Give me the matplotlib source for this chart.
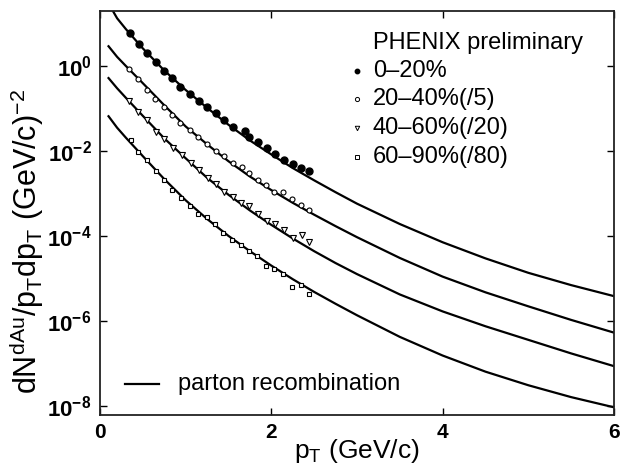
import numpy as np
import matplotlib
matplotlib.use("Agg")
import matplotlib.pyplot as plt


# data
# PHENIX preliminary d+Au spectra, by centrality (scaled)
x_0_20 = [0.35, 0.455, 0.552, 0.65, 0.747, 0.837, 0.933, 1.05, 1.155, 1.252, 1.354,
          1.447, 1.548, 1.692, 1.739, 1.847, 1.945, 2.042, 2.147, 2.249, 2.342, 2.442]
y_0_20 = [5.9, 3.25, 2.1, 1.26, 0.774, 0.513, 0.315, 0.219, 0.152, 0.110, 0.081,
          0.0553, 0.037, 0.0298, 0.0215, 0.0164, 0.0115, 0.0087, 0.00607, 0.0049, 0.0040, 0.00334]

x_20_40 = [0.34, 0.44, 0.545, 0.64, 0.747, 0.837, 0.933, 1.05, 1.147, 1.252, 1.35,
           1.447, 1.548, 1.653, 1.742, 1.84, 1.937, 2.034, 2.139, 2.244, 2.342, 2.439]
y_20_40 = [0.836, 0.486, 0.282, 0.167, 0.110, 0.070, 0.047, 0.031, 0.0215, 0.015, 0.0100,
           0.0077, 0.0051, 0.0042, 0.0030, 0.00204, 0.00158, 0.00108, 0.00108, 0.00076, 0.00053, 0.00040]

x_40_60 = [0.34, 0.447, 0.552, 0.65, 0.75, 0.848, 0.953, 1.058, 1.155, 1.257, 1.35,
           1.447, 1.548, 1.645, 1.742, 1.847, 1.945, 2.042, 2.147, 2.249, 2.354, 2.442]
y_40_60 = [0.152, 0.0836, 0.0533, 0.0282, 0.019, 0.0121, 0.0080, 0.0052, 0.00352, 0.00237, 0.00171,
           0.00108, 0.00083, 0.00060, 0.00050, 0.00032, 0.000224, 0.000187, 0.000141, 8.9e-5, 1.03e-4, 7.2e-5]

x_60_90 = [0.358, 0.447, 0.552, 0.65, 0.747, 0.846, 0.945, 1.047, 1.147, 1.252, 1.348,
           1.439, 1.544, 1.645, 1.742, 1.838, 1.941, 2.036, 2.139, 2.244, 2.343, 2.435]
y_60_90 = [0.0180, 0.0095, 0.00607, 0.00334, 0.00213, 0.00124, 0.0008, 0.00052, 0.000336, 0.000282, 0.000188,
           0.00012, 8.2e-5, 6.2e-5, 4.3e-5, 3.3e-5, 1.92e-5, 1.70e-5, 1.29e-5, 6.2e-6, 6.8e-6, 4.2e-6]

# parton recombination curves (log10 of the value)
x_curve = [0.1, 0.2, 0.3, 0.5, 0.75, 1.0, 1.25, 1.5, 1.75, 2.0,
           2.25, 2.5, 2.75, 3.0, 3.5, 4.0, 4.5, 5.0, 5.5, 6.0]
log_curve_0_20 = [1.48, 1.13, 0.88, 0.42, -0.10, -0.56, -0.98, -1.38, -1.75, -2.08,
                  -2.40, -2.69, -2.97, -3.24, -3.72, -4.15, -4.53, -4.87, -5.16, -5.42]
log_curve_20_40 = [0.47, 0.22, 0.01, -0.40, -0.92, -1.42, -1.84, -2.24, -2.60, -2.92,
                   -3.22, -3.50, -3.77, -4.03, -4.52, -4.96, -5.33, -5.66, -5.98, -6.28]
log_curve_40_60 = [-0.28, -0.52, -0.74, -1.17, -1.70, -2.17, -2.63, -3.03, -3.40, -3.74,
                   -4.06, -4.36, -4.64, -4.90, -5.38, -5.78, -6.13, -6.45, -6.77, -7.07]
log_curve_60_90 = [-1.18, -1.45, -1.68, -2.12, -2.66, -3.16, -3.60, -4.00, -4.36, -4.70,
                   -5.02, -5.32, -5.60, -5.87, -6.38, -6.82, -7.20, -7.52, -7.80, -8.04]

labels = ["0\u201320%", "20\u201340%(/5)", "40\u201360%(/20)", "60\u201390%(/80)"]

x_ticks = [0, 2, 4, 6]
y_ticks = [1e0, 1e-2, 1e-4, 1e-6, 1e-8]
y_tick_labels = [r"$\mathbf{10^{0}}$", r"$\mathbf{10^{-2}}$", r"$\mathbf{10^{-4}}$",
                 r"$\mathbf{10^{-6}}$", r"$\mathbf{10^{-8}}$"]


plt.rcParams["font.family"] = "Liberation Sans"
plt.rcParams["mathtext.fontset"] = "custom"
plt.rcParams["mathtext.rm"] = "Liberation Sans"
plt.rcParams["mathtext.it"] = "Liberation Sans:italic"
plt.rcParams["mathtext.bf"] = "Liberation Sans:bold"

fig = plt.figure(figsize=(6.26, 4.66), dpi=100)
ax = fig.add_axes([0.1597, 0.1094, 0.8211, 0.867])

# curves
for lc in [log_curve_0_20, log_curve_20_40, log_curve_40_60, log_curve_60_90]:
    ax.plot(x_curve, 10.0 ** np.array(lc), color="black", lw=1.6, zorder=2)

# data points
styles = [
    dict(marker="o", color="black", ms=5.0),
    dict(marker="o", mfc="white", mec="black", mew=0.8, ms=3.6),
    dict(marker="v", mfc="white", mec="black", mew=0.8, ms=3.8),
    dict(marker="s", mfc="white", mec="black", mew=0.8, ms=3.2),
]
series = [(x_0_20, y_0_20), (x_20_40, y_20_40), (x_40_60, y_40_60), (x_60_90, y_60_90)]
for (xs, ys), st in zip(series, styles):
    ax.plot(xs, ys, ls="none", zorder=3, **st)

ax.set_yscale("log")
ax.set_xlim(0, 6)
ax.set_ylim(6e-9, 20)

ax.set_xticks(x_ticks)
ax.set_xticklabels([str(t) for t in x_ticks], fontsize=15, fontweight="bold")
ax.set_yticks(y_ticks)
ax.set_yticklabels(y_tick_labels, fontsize=16)
ax.minorticks_off()
ax.tick_params(direction="in", top=True, right=True, length=5, width=1.0, pad=6)

for sp in ax.spines.values():
    sp.set_linewidth(1.3)
    sp.set_color("#222222")

ax.set_xlabel(r"p$_\mathregular{T}$ (GeV/c)", fontsize=19, labelpad=-4)
ax.set_ylabel(r"dN$^\mathregular{dAu}$/p$_\mathregular{T}$dp$_\mathregular{T}$ (GeV/c)$^\mathregular{-2}$",
              fontsize=22)
ax.yaxis.set_label_coords(-0.105, 0.43)

# legend, placed by hand like the original
ax.text(0.531, 0.921, "PHENIX preliminary", transform=ax.transAxes,
        fontsize=17, ha="left", va="center")
small = [
    dict(marker="o", color="black", ms=3.2),
    dict(marker="o", mfc="white", mec="black", mew=0.7, ms=3.0),
    dict(marker="v", mfc="white", mec="black", mew=0.7, ms=3.2),
    dict(marker="s", mfc="white", mec="black", mew=0.7, ms=2.8),
]
for i, (lab, st) in enumerate(zip(labels, small)):
    yy = 0.852 - i * 0.071
    ax.plot([0.50], [yy], transform=ax.transAxes, ls="none", clip_on=False, **st)
    ax.text(0.531, yy, lab, transform=ax.transAxes, fontsize=17, ha="left", va="center")

ax.plot([0.048, 0.115], [0.078, 0.078], transform=ax.transAxes, color="black", lw=1.6)
ax.text(0.152, 0.078, "parton recombination", transform=ax.transAxes,
        fontsize=17, ha="left", va="center")

fig.savefig("out.png", dpi=100)
